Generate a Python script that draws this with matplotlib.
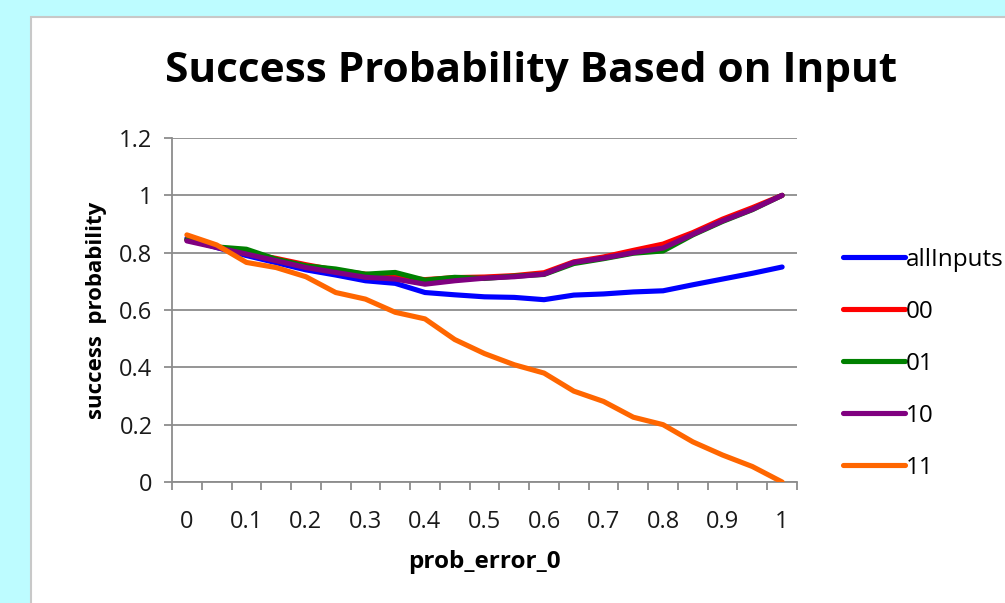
import matplotlib
matplotlib.use("Agg")
import matplotlib.pyplot as plt
from matplotlib.patches import Rectangle

plt.rcParams['font.family'] = ['Open Sans', 'DejaVu Sans']

x_labels = ["0", "", "0.1", "", "0.2", "", "0.3", "", "0.4", "", "0.5", "", "0.6", "", "0.7", "", "0.8", "", "0.9", "", "1"]

all_inputs = [0.85, 0.818, 0.79, 0.765, 0.74, 0.722, 0.702, 0.693, 0.661, 0.653, 0.646, 0.644, 0.636, 0.652, 0.656, 0.663, 0.667, 0.688, 0.708, 0.728, 0.75]
s00 = [0.845, 0.82, 0.798, 0.78, 0.758, 0.739, 0.725, 0.714, 0.706, 0.713, 0.715, 0.72, 0.73, 0.768, 0.785, 0.808, 0.83, 0.87, 0.917, 0.957, 1.0]
s01 = [0.845, 0.82, 0.812, 0.777, 0.754, 0.743, 0.725, 0.731, 0.704, 0.714, 0.71, 0.718, 0.724, 0.762, 0.779, 0.798, 0.806, 0.862, 0.909, 0.95, 1.0]
s10 = [0.841, 0.818, 0.795, 0.772, 0.748, 0.731, 0.714, 0.708, 0.69, 0.702, 0.711, 0.716, 0.725, 0.766, 0.781, 0.8, 0.816, 0.864, 0.911, 0.951, 1.0]
s11 = [0.862, 0.827, 0.766, 0.748, 0.716, 0.661, 0.638, 0.592, 0.569, 0.497, 0.448, 0.409, 0.38, 0.317, 0.281, 0.226, 0.2, 0.14, 0.094, 0.054, 0.0]

series = [
    ("allInputs", all_inputs, "#0000FF"),
    ("00", s00, "#FF0000"),
    ("01", s01, "#008000"),
    ("10", s10, "#800080"),
    ("11", s11, "#FF6600"),
]

W, H = 1005, 603
fig = plt.figure(figsize=(W / 100, H / 100), dpi=100)
fig.patch.set_facecolor("#BDFCFF")

# chart area
fig.patches.append(Rectangle((31 / W, -0.1), 1.2, 1 - 17 / H + 0.1, transform=fig.transFigure,
                             facecolor="white", edgecolor="#C8C8C8", linewidth=1.5, zorder=-1))

L, R, T, B = 172, 797, 138, 482
ax = fig.add_axes([L / W, 1 - B / H, (R - L) / W, (B - T) / H])
ax.set_facecolor("none")

n = len(x_labels)
xs = list(range(n))
for name, vals, col in series:
    ax.plot(xs, vals, color=col, linewidth=3.7, label=name, solid_capstyle="round",
            solid_joinstyle="round", zorder=3)

ax.set_xlim(-0.5, n - 0.5)
ax.set_ylim(0, 1.2)
ax.set_yticks([0, 0.2, 0.4, 0.6, 0.8, 1.0, 1.2])
ax.set_yticklabels(["0", "0.2", "0.4", "0.6", "0.8", "1", "1.2"], fontsize=17, color="#1A1A1A")
ax.grid(axis="y", color="#8C8C8C", linewidth=1.3, zorder=1)
ax.set_axisbelow(True)

ax.set_xticks(xs)
ax.set_xticklabels(x_labels, fontsize=17, color="#1A1A1A")
ax.tick_params(axis="x", length=0, pad=20)
ax.set_xticks([i - 0.5 for i in range(n + 1)], minor=True)
ax.tick_params(axis="x", which="minor", length=6, width=1.3, color="#8C8C8C")
ax.tick_params(axis="y", length=6, width=1.3, color="#8C8C8C", pad=8)

for s in ["top", "right"]:
    ax.spines[s].set_visible(False)
for s in ["left", "bottom"]:
    ax.spines[s].set_color("#8C8C8C")
    ax.spines[s].set_linewidth(1.3)

ax.set_xlabel("prob_error_0", fontsize=17.5, fontweight="bold", labelpad=12)
ax.set_ylabel("success  probability", fontsize=16, fontweight="bold", labelpad=9)

fig.text(531 / W, 1 - 72 / H, "Success Probability Based on Input", fontsize=30.5,
         fontweight="bold", ha="center", va="center")

leg = fig.legend(loc="upper left", bbox_to_anchor=(833 / W, 1 - 238 / H), frameon=False,
                 fontsize=17.5, handlelength=2.55, handletextpad=0.06, labelspacing=1.15,
                 borderaxespad=0)

fig.savefig("out.png", dpi=100, facecolor=fig.get_facecolor())
